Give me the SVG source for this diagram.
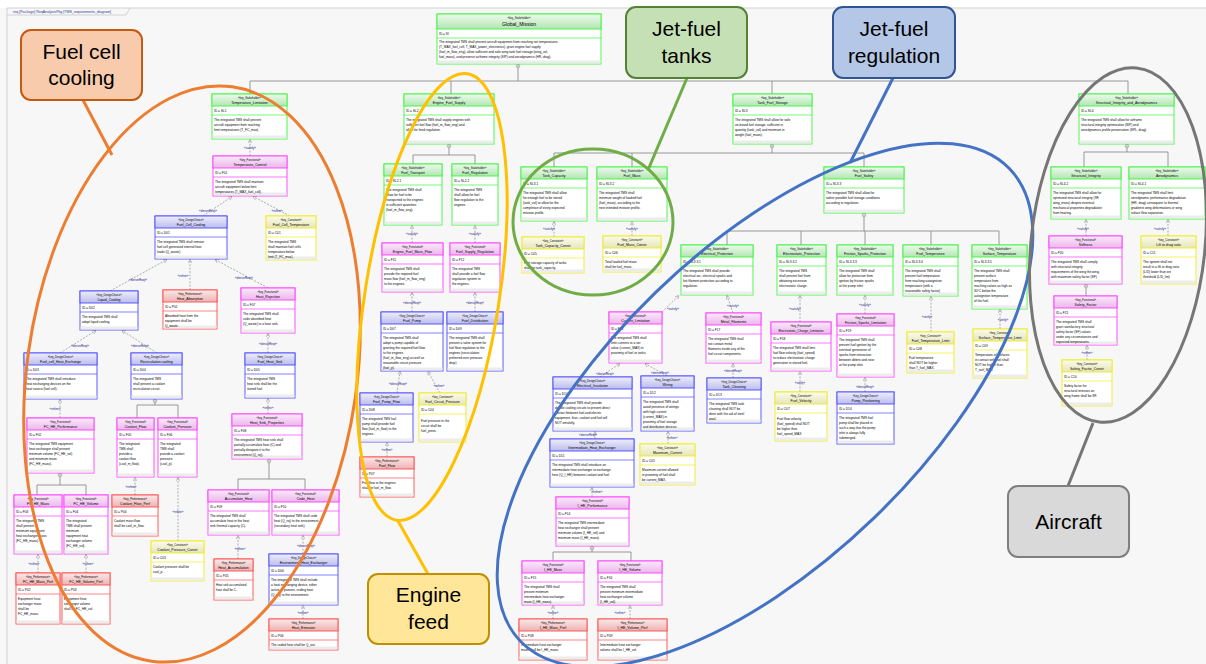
<svg xmlns="http://www.w3.org/2000/svg" width="1206" height="664" viewBox="0 0 1206 664">
<style>
text{font-family:"Liberation Sans",Arial,sans-serif;fill:#000}
.b{fill:#fff;stroke-width:0.9}
.h{stroke-width:0.9}
.n line{stroke-width:0.7}
.ft{fill:#ececec;stroke:none}
.G .b,.G .h,.G line{stroke:#3df53d}.G .h{fill:url(#gG)}
.P .b,.P .h,.P line{stroke:#ff3dff}.P .h{fill:url(#gP)}
.B .b,.B .h,.B line{stroke:#4d4dff}.B .h{fill:url(#gB)}
.R .b,.R .h,.R line{stroke:#ff4d4d}.R .h{fill:url(#gR)}
.Y .b,.Y .h,.Y line{stroke:#f0ec20}.Y .h{fill:url(#gY)}
.st{font-size:2.7px;text-anchor:middle}
.nm{font-size:3.5px;text-anchor:middle}
.t{font-size:3.2px}
.dep{fill:none;stroke:#8c8c8c;stroke-width:0.7;stroke-dasharray:2 1.4;marker-end:url(#oa)}
.lb{font-size:3px;fill:#1a1a8c;text-anchor:middle}
.cn{fill:none;stroke:#8c8c8c;stroke-width:0.9}
.cl{font-size:21px;text-anchor:middle}
.ell{fill:none;stroke-width:3}
</style>
<defs>
<linearGradient id="gG" x1="0" y1="0" x2="0" y2="1"><stop offset="0" stop-color="#eefaee"/><stop offset="1" stop-color="#b2e6b2"/></linearGradient>
<linearGradient id="gP" x1="0" y1="0" x2="0" y2="1"><stop offset="0" stop-color="#fbeafb"/><stop offset="1" stop-color="#ebb6eb"/></linearGradient>
<linearGradient id="gB" x1="0" y1="0" x2="0" y2="1"><stop offset="0" stop-color="#eeeefb"/><stop offset="1" stop-color="#bcbcee"/></linearGradient>
<linearGradient id="gR" x1="0" y1="0" x2="0" y2="1"><stop offset="0" stop-color="#fbe9e9"/><stop offset="1" stop-color="#eeb2b2"/></linearGradient>
<linearGradient id="gY" x1="0" y1="0" x2="0" y2="1"><stop offset="0" stop-color="#fbfbee"/><stop offset="1" stop-color="#e6e6b8"/></linearGradient>
<marker id="oa" viewBox="0 0 10 10" refX="9.5" refY="5" markerWidth="4" markerHeight="4" markerUnits="userSpaceOnUse" orient="auto"><path d="M0,0 L10,5 L0,10" fill="none" stroke="#8c8c8c" stroke-width="1.3"/></marker>
<g id="cp"><circle r="1.8" fill="#fff" stroke="#8c8c8c" stroke-width="0.6"/><path d="M-1.2,0H1.2M0,-1.2V1.2" stroke="#8c8c8c" stroke-width="0.5"/></g>
</defs>
<rect width="1206" height="664" fill="#f7f7f7"/>
<rect width="1206" height="8" fill="#ffffff"/>
<g id="frame">
<path d="M7,664 V8 H1206" fill="none" stroke="#c8c8c8" stroke-width="0.8"/>
<path d="M7,15 H126 L130,8" fill="none" stroke="#c8c8c8" stroke-width="0.8"/>
<text x="13" y="13" font-size="3.6" fill="#2b3a8f" style="fill:#2b3a8f">req [Package] ReqAnalysisPkg [TMS_requirements_diagram]</text>
</g>

<g id="connectors">
<path class="cn" d="M518,64V81M250,81H1128M250,81V94M451,81V94M772,81V94M1128,81V94"/>
<path class="cn" d="M449,144V155M413,155H475M413,155V164M475,155V164"/>
<path class="cn" d="M772,144V153M554,153H864M554,153V167M632,153V167M864,153V167"/>
<path class="cn" d="M1127,144V152M1084,152H1168M1084,152V167M1168,152V167"/>
<path class="cn" d="M864,213V231M727,231H999M727,231V245M801,231V245M865,231V245M931,231V245M999,231V245"/>
<path class="cn" d="M155,399V405M137,405H178M137,405V418M178,405V418"/>
<path class="cn" d="M60,473V485M37,485H86M37,485V495M86,485V495"/>
<path class="cn" d="M269,459V479M238,479H305M238,479V490M305,479V490"/>
<path class="cn" d="M592,546V552M553,552H631M553,552V561M631,552V561"/>
<path class="cn" d="M1086,284V296"/>
<use href="#cp" x="518" y="66"/><use href="#cp" x="449" y="146"/><use href="#cp" x="772" y="146"/><use href="#cp" x="1127" y="146"/><use href="#cp" x="864" y="215"/><use href="#cp" x="155" y="401"/><use href="#cp" x="60" y="475"/><use href="#cp" x="269" y="461"/><use href="#cp" x="592" y="548"/><use href="#cp" x="1086" y="286"/>

<path class="dep" d="M250,156L250,139.5"/><text class="lb" x="250" y="149">«satisfy»</text>
<path class="dep" d="M203,216L232,196.5"/><text class="lb" x="208" y="212">«deriveReqt»</text>
<path class="dep" d="M290,216L253,196.5"/><text class="lb" x="277" y="212">«refine»</text>
<path class="dep" d="M110,291L167,259.5"/><text class="lb" x="138" y="281">«deriveReqt»</text>
<path class="dep" d="M190,290L190,259.5"/><text class="lb" x="183" y="277">«refine»</text>
<path class="dep" d="M268,288L215,259.5"/><text class="lb" x="244" y="279">«deriveReqt»</text>
<path class="dep" d="M60,353L96,330.5"/><text class="lb" x="80" y="347">«deriveReqt»</text>
<path class="dep" d="M157,353L122,330.5"/><text class="lb" x="140" y="347">«deriveReqt»</text>
<path class="dep" d="M268,353L268,333.5"/><text class="lb" x="268" y="345">«deriveReqt»</text>
<path class="dep" d="M60,418L60,399.5"/><text class="lb" x="55" y="410">«refine»</text>
<path class="dep" d="M268,414L268,398.5"/><text class="lb" x="268" y="409">«refine»</text>
<path class="dep" d="M135,495L135,477.5"/><text class="lb" x="131" y="488">«refine»</text>
<path class="dep" d="M178,541L178,477.5"/><text class="lb" x="178" y="513">«refine»</text>
<path class="dep" d="M38,573L38,554.5"/><text class="lb" x="34" y="565">«refine»</text>
<path class="dep" d="M86,573L86,554.5"/><text class="lb" x="88" y="565">«refine»</text>
<path class="dep" d="M238,559L238,535.5"/><text class="lb" x="240" y="550">«refine»</text>
<path class="dep" d="M303,554L303,535.5"/><text class="lb" x="306" y="547">«deriveReqt»</text>
<path class="dep" d="M303,619L303,605.5"/><text class="lb" x="303" y="614">«refine»</text>
<path class="dep" d="M412,243L412,225.5"/><text class="lb" x="412" y="235">«satisfy»</text>
<path class="dep" d="M475,243L475,225.5"/><text class="lb" x="475" y="235">«satisfy»</text>
<path class="dep" d="M412,312L412,292.5"/><text class="lb" x="412" y="304">«deriveReqt»</text>
<path class="dep" d="M475,312L475,292.5"/><text class="lb" x="475" y="304">«deriveReqt»</text>
<path class="dep" d="M397,393L400,371.5"/><text class="lb" x="398" y="385">«deriveReqt»</text>
<path class="dep" d="M440,393L428,371.5"/><text class="lb" x="439" y="387">«refine»</text>
<path class="dep" d="M387,457L387,442.5"/><text class="lb" x="387" y="451">«refine»</text>
<path class="dep" d="M554,237L554,221.5"/><text class="lb" x="549" y="230">«satisfy»</text>
<path class="dep" d="M632,236L632,221.5"/><text class="lb" x="632" y="230">«satisfy»</text>
<path class="dep" d="M662,312L679,295.5"/><text class="lb" x="673" y="310">«satisfy»</text>
<path class="dep" d="M733,313L727,295.5"/><text class="lb" x="733" y="307">«satisfy»</text>
<path class="dep" d="M800,322L800,295.5"/><text class="lb" x="795" y="310">«satisfy»</text>
<path class="dep" d="M865,314L865,295.5"/><text class="lb" x="865" y="306">«satisfy»</text>
<path class="dep" d="M600,377L620,363.5"/><text class="lb" x="605" y="375">«deriveReqt»</text>
<path class="dep" d="M667,376L645,363.5"/><text class="lb" x="660" y="374">«deriveReqt»</text>
<path class="dep" d="M733,378L733,363.5"/><text class="lb" x="733" y="372">«deriveReqt»</text>
<path class="dep" d="M800,392L800,371.5"/><text class="lb" x="800" y="384">«verify»</text>
<path class="dep" d="M865,392L865,377.5"/><text class="lb" x="865" y="388">«deriveReqt»</text>
<path class="dep" d="M668,444L668,431.5"/><text class="lb" x="672" y="439">«refine»</text>
<path class="dep" d="M595,439L595,431.5"/><text class="lb" x="588" y="436">«deriveReqt»</text>
<path class="dep" d="M592,497L592,487.5"/><text class="lb" x="597" y="493">«refine»</text>
<path class="dep" d="M553,619L553,605.5"/><text class="lb" x="553" y="614">«refine»</text>
<path class="dep" d="M630,619L630,605.5"/><text class="lb" x="620" y="614">«refine»</text>
<path class="dep" d="M931,332L931,296.5"/><text class="lb" x="927" y="318">«verify»</text>
<path class="dep" d="M1000,329L1000,309.5"/><text class="lb" x="1003" y="321">«verify»</text>
<path class="dep" d="M1086,236L1086,219.5"/><text class="lb" x="1083" y="230">«satisfy»</text>
<path class="dep" d="M1168,236L1168,219.5"/><text class="lb" x="1160" y="230">«satisfy»</text>
<path class="dep" d="M1087,360L1087,345.5"/><text class="lb" x="1087" y="354">«refine»</text>
</g>

<g id="Global_Mission" class="n G"><rect class="b" x="437" y="14" width="164" height="50"/><rect class="ft" x="437.5" y="60.5" width="163" height="3"/><rect class="h" x="437" y="14" width="164" height="15"/><line x1="437" y1="38" x2="601" y2="38"/><text class="st" x="519" y="19">«key_Stakeholder»</text><text class="nm" x="519" y="26" style="font-size:5px">Global_Mission</text><text class="t" x="439" y="35">ID = SI</text><text class="t" x="439" y="43">The integrated TMS shall prevent aircraft equipment from reaching set temperatures<tspan x="439" dy="5">(T_MAX_fuel_cell, T_MAX_power_electronics), grant engine fuel supply</tspan><tspan x="439" dy="5">(fuel_m_flow_eng), allow sufficient and safe wing tank fuel storage (wing_vol,</tspan><tspan x="439" dy="5">fuel_mass), and preserve airframe integrity (SIP) and aerodynamics (HR, drag).</tspan></text></g>

<g id="Temperature_Limitation" class="n G"><rect class="b" x="212" y="94" width="75" height="45"/><rect class="ft" x="212.5" y="135.5" width="74" height="3"/><rect class="h" x="212" y="94" width="75" height="12"/><line x1="212" y1="115" x2="287" y2="115"/><text class="st" x="249.5" y="98.5">«key_Stakeholder»</text><text class="nm" x="249.5" y="104">Temperature_Limitation</text><text class="t" x="214" y="112">ID = SL1</text><text class="t" x="214" y="120.5">The integrated TMS shall prevent<tspan x="214" dy="5">aircraft equipment from reaching</tspan><tspan x="214" dy="5">limit temperatures (T_FC_max).</tspan></text></g>

<g id="Engine_Fuel_Supply" class="n G"><rect class="b" x="404" y="94" width="90" height="50"/><rect class="ft" x="404.5" y="140.5" width="89" height="3"/><rect class="h" x="404" y="94" width="90" height="12"/><line x1="404" y1="115" x2="494" y2="115"/><text class="st" x="449" y="98.5">«key_Stakeholder»</text><text class="nm" x="449" y="104">Engine_Fuel_Supply</text><text class="t" x="406" y="112">ID = SL2</text><text class="t" x="406" y="120.5">The integrated TMS shall supply engines with<tspan x="406" dy="5">sufficient fuel flow (fuel_m_flow_eng) and</tspan><tspan x="406" dy="5">allow for feed regulation.</tspan></text></g>

<g id="Tank_Fuel_Storage" class="n G"><rect class="b" x="733" y="94" width="79" height="50"/><rect class="ft" x="733.5" y="140.5" width="78" height="3"/><rect class="h" x="733" y="94" width="79" height="12"/><line x1="733" y1="115" x2="812" y2="115"/><text class="st" x="772.5" y="98.5">«key_Stakeholder»</text><text class="nm" x="772.5" y="104">Tank_Fuel_Storage</text><text class="t" x="735" y="112">ID = SL3</text><text class="t" x="735" y="120.5">The integrated TMS shall allow for safe<tspan x="735" dy="5">on-board fuel storage, sufficient in</tspan><tspan x="735" dy="5">quantity (tank_vol) and minimum in</tspan><tspan x="735" dy="5">weight (fuel_mass).</tspan></text></g>

<g id="Structural_Integrity_and_Aerodynamics" class="n G"><rect class="b" x="1079" y="94" width="95" height="50"/><rect class="ft" x="1079.5" y="140.5" width="94" height="3"/><rect class="h" x="1079" y="94" width="95" height="12"/><line x1="1079" y1="115" x2="1174" y2="115"/><text class="st" x="1126.5" y="98.5">«key_Stakeholder»</text><text class="nm" x="1126.5" y="104">Structural_Integrity_and_Aerodynamics</text><text class="t" x="1081" y="112">ID = SL4</text><text class="t" x="1081" y="120.5">The integrated TMS shall allow for airframe<tspan x="1081" dy="5">structural integrity optimization (SIP) and</tspan><tspan x="1081" dy="5">aerodynamics profile preservation (SPL, drag).</tspan></text></g>

<g id="Fuel_Transport" class="n G"><rect class="b" x="384" y="164" width="58" height="61"/><rect class="ft" x="384.5" y="221.5" width="57" height="3"/><rect class="h" x="384" y="164" width="58" height="12"/><line x1="384" y1="185" x2="442" y2="185"/><text class="st" x="413" y="168.5">«key_Stakeholder»</text><text class="nm" x="413" y="174">Fuel_Transport</text><text class="t" x="386" y="182">ID = SL2.1</text><text class="t" x="386" y="190.5">The integrated TMS shall<tspan x="386" dy="5">allow for fuel to be</tspan><tspan x="386" dy="5">transported to the engines</tspan><tspan x="386" dy="5">in sufficient quantities</tspan><tspan x="386" dy="5">(fuel_m_flow_eng).</tspan></text></g>

<g id="Fuel_Regulation" class="n G"><rect class="b" x="452" y="164" width="46" height="61"/><rect class="ft" x="452.5" y="221.5" width="45" height="3"/><rect class="h" x="452" y="164" width="46" height="12"/><line x1="452" y1="185" x2="498" y2="185"/><text class="st" x="475" y="168.5">«key_Stakeholder»</text><text class="nm" x="475" y="174">Fuel_Regulation</text><text class="t" x="454" y="182">ID = SL2.2</text><text class="t" x="454" y="190.5">The integrated TMS<tspan x="454" dy="5">shall allow for fuel</tspan><tspan x="454" dy="5">flow regulation to the</tspan><tspan x="454" dy="5">engines.</tspan></text></g>

<g id="Tank_Capacity" class="n G"><rect class="b" x="521" y="167" width="66" height="54"/><rect class="ft" x="521.5" y="217.5" width="65" height="3"/><rect class="h" x="521" y="167" width="66" height="12"/><line x1="521" y1="188" x2="587" y2="188"/><text class="st" x="554" y="171.5">«key_Stakeholder»</text><text class="nm" x="554" y="177">Tank_Capacity</text><text class="t" x="523" y="185">ID = SL3.1</text><text class="t" x="523" y="193.5">The integrated TMS shall allow<tspan x="523" dy="5">for enough fuel to be stored</tspan><tspan x="523" dy="5">(tank_vol) to allow for the</tspan><tspan x="523" dy="5">completion of every expected</tspan><tspan x="523" dy="5">mission profile.</tspan></text></g>

<g id="Fuel_Mass" class="n G"><rect class="b" x="597" y="167" width="70" height="54"/><rect class="ft" x="597.5" y="217.5" width="69" height="3"/><rect class="h" x="597" y="167" width="70" height="12"/><line x1="597" y1="188" x2="667" y2="188"/><text class="st" x="632" y="171.5">«key_Stakeholder»</text><text class="nm" x="632" y="177">Fuel_Mass</text><text class="t" x="599" y="185">ID = SL3.2</text><text class="t" x="599" y="193.5">The integrated TMS shall<tspan x="599" dy="5">minimize weight of loaded fuel</tspan><tspan x="599" dy="5">(fuel_mass), according to the</tspan><tspan x="599" dy="5">next intended mission profile.</tspan></text></g>

<g id="Fuel_Safety" class="n G"><rect class="b" x="824" y="167" width="80" height="46"/><rect class="ft" x="824.5" y="209.5" width="79" height="3"/><rect class="h" x="824" y="167" width="80" height="12"/><line x1="824" y1="188" x2="904" y2="188"/><text class="st" x="864" y="171.5">«key_Stakeholder»</text><text class="nm" x="864" y="177">Fuel_Safety</text><text class="t" x="826" y="185">ID = SL3.3</text><text class="t" x="826" y="193.5">The integrated TMS shall allow for<tspan x="826" dy="5">safest possible fuel storage conditions</tspan><tspan x="826" dy="5">according to regulation.</tspan></text></g>

<g id="Structural_Integrity" class="n G"><rect class="b" x="1051" y="167" width="70" height="52"/><rect class="ft" x="1051.5" y="215.5" width="69" height="3"/><rect class="h" x="1051" y="167" width="70" height="12"/><line x1="1051" y1="188" x2="1121" y2="188"/><text class="st" x="1086" y="171.5">«key_Stakeholder»</text><text class="nm" x="1086" y="177">Structural_Integrity</text><text class="t" x="1053" y="185">ID = SL4.2</text><text class="t" x="1053" y="193.5">The integrated TMS shall allow for<tspan x="1053" dy="5">optimized structural integrity (SF,</tspan><tspan x="1053" dy="5">wing_mass) despite eventual</tspan><tspan x="1053" dy="5">mechanical properties degradation</tspan><tspan x="1053" dy="5">from heating.</tspan></text></g>

<g id="Aerodynamics" class="n G"><rect class="b" x="1129" y="167" width="76" height="52"/><rect class="ft" x="1129.5" y="215.5" width="75" height="3"/><rect class="h" x="1129" y="167" width="76" height="12"/><line x1="1129" y1="188" x2="1205" y2="188"/><text class="st" x="1167" y="171.5">«key_Stakeholder»</text><text class="nm" x="1167" y="177">Aerodynamics</text><text class="t" x="1131" y="185">ID = SL4.1</text><text class="t" x="1131" y="193.5">The integrated TMS shall limit<tspan x="1131" dy="5">aerodynamic performance degradation</tspan><tspan x="1131" dy="5">(HR, drag) consequent to thermal</tspan><tspan x="1131" dy="5">gradients wing deformations or wing</tspan><tspan x="1131" dy="5">suface flow separation.</tspan></text></g>

<g id="Electrical_Protection" class="n G"><rect class="b" x="681" y="245" width="72" height="50"/><rect class="ft" x="681.5" y="291.5" width="71" height="3"/><rect class="h" x="681" y="245" width="72" height="12"/><line x1="681" y1="266" x2="753" y2="266"/><text class="st" x="717" y="249.5">«key_Stakeholder»</text><text class="nm" x="717" y="255">Electrical_Protection</text><text class="t" x="683" y="263">ID = SL3.3.1</text><text class="t" x="683" y="271.5">The integrated TMS shall provide<tspan x="683" dy="5">electrical arc, electrical sparks and</tspan><tspan x="683" dy="5">hot filament protection according to</tspan><tspan x="683" dy="5">regulation.</tspan></text></g>

<g id="Electrostatic_Protection" class="n G"><rect class="b" x="777" y="245" width="49" height="50"/><rect class="ft" x="777.5" y="291.5" width="48" height="3"/><rect class="h" x="777" y="245" width="49" height="12"/><line x1="777" y1="266" x2="826" y2="266"/><text class="st" x="801.5" y="249.5">«key_Stakeholder»</text><text class="nm" x="801.5" y="255">Electrostatic_Protection</text><text class="t" x="779" y="263">ID = SL3.3.2</text><text class="t" x="779" y="271.5">The integrated TMS<tspan x="779" dy="5">shall prevent fuel from</tspan><tspan x="779" dy="5">obtaining excessive</tspan><tspan x="779" dy="5">electrostatic charge.</tspan></text></g>

<g id="Friction_Sparks_Protection" class="n G"><rect class="b" x="837" y="245" width="56" height="50"/><rect class="ft" x="837.5" y="291.5" width="55" height="3"/><rect class="h" x="837" y="245" width="56" height="12"/><line x1="837" y1="266" x2="893" y2="266"/><text class="st" x="865" y="249.5">«key_Stakeholder»</text><text class="nm" x="865" y="255">Friction_Sparks_Protection</text><text class="t" x="839" y="263">ID = SL3.3.3</text><text class="t" x="839" y="271.5">The integrated TMS shall<tspan x="839" dy="5">allow for protection from</tspan><tspan x="839" dy="5">ignition by friction sparks</tspan><tspan x="839" dy="5">at the pump inlet.</tspan></text></g>

<g id="Fuel_Temperature" class="n G"><rect class="b" x="903" y="245" width="55" height="51"/><rect class="ft" x="903.5" y="292.5" width="54" height="3"/><rect class="h" x="903" y="245" width="55" height="12"/><line x1="903" y1="266" x2="958" y2="266"/><text class="st" x="930.5" y="249.5">«key_Stakeholder»</text><text class="nm" x="930.5" y="255">Fuel_Temperature</text><text class="t" x="905" y="263">ID = SL3.3.4</text><text class="t" x="905" y="271.5">The integrated TMS shall<tspan x="905" dy="5">prevent fuel temperature</tspan><tspan x="905" dy="5">from reaching autoignition</tspan><tspan x="905" dy="5">temperature (with a</tspan><tspan x="905" dy="5">reasonable safety factor)</tspan></text></g>

<g id="Surface_Temperature" class="n G"><rect class="b" x="972" y="245" width="55" height="64"/><rect class="ft" x="972.5" y="305.5" width="54" height="3"/><rect class="h" x="972" y="245" width="55" height="12"/><line x1="972" y1="266" x2="1027" y2="266"/><text class="st" x="999.5" y="249.5">«key_Stakeholder»</text><text class="nm" x="999.5" y="255">Surface_Temperature</text><text class="t" x="974" y="263">ID = SL3.3.5</text><text class="t" x="974" y="271.5">The integrated TMS shall<tspan x="974" dy="5">present surface</tspan><tspan x="974" dy="5">temperature from</tspan><tspan x="974" dy="5">reaching values as high as</tspan><tspan x="974" dy="5">30°C below the</tspan><tspan x="974" dy="5">autoignition temperature</tspan><tspan x="974" dy="5">of the fuel.</tspan></text></g>

<g id="Temperature_Control" class="n P"><rect class="b" x="213" y="156" width="74" height="40"/><rect class="ft" x="213.5" y="192.5" width="73" height="3"/><rect class="h" x="213" y="156" width="74" height="12"/><line x1="213" y1="177" x2="287" y2="177"/><text class="st" x="250" y="160.5">«key_Functional»</text><text class="nm" x="250" y="166">Temperature_Control</text><text class="t" x="215" y="174">ID = F01</text><text class="t" x="215" y="182.5">The integrated TMS shall maintain<tspan x="215" dy="5">aircraft equipment below limit</tspan><tspan x="215" dy="5">temperatures (T_MAX_fuel_cell).</tspan></text></g>

<g id="Heat_Rejection" class="n P"><rect class="b" x="241" y="288" width="54" height="45"/><rect class="ft" x="241.5" y="329.5" width="53" height="3"/><rect class="h" x="241" y="288" width="54" height="12"/><line x1="241" y1="309" x2="295" y2="309"/><text class="st" x="268" y="292.5">«key_Functional»</text><text class="nm" x="268" y="298">Heat_Rejection</text><text class="t" x="243" y="306">ID = F07</text><text class="t" x="243" y="314.5">The integrated TMS shall<tspan x="243" dy="5">cede absorbed heat</tspan><tspan x="243" dy="5">(Q_waste) to a heat sink.</tspan></text></g>

<g id="FC_HE_Performance" class="n P"><rect class="b" x="27" y="418" width="67" height="55"/><rect class="ft" x="27.5" y="469.5" width="66" height="3"/><rect class="h" x="27" y="418" width="67" height="12"/><line x1="27" y1="439" x2="94" y2="439"/><text class="st" x="60.5" y="422.5">«key_Functional»</text><text class="nm" x="60.5" y="428">FC_HE_Performance</text><text class="t" x="29" y="436">ID = F02</text><text class="t" x="29" y="444.5">The integrated TMS equipment<tspan x="29" dy="5">heat exchanger shall present</tspan><tspan x="29" dy="5">minimum volume (FC_HE_vol)</tspan><tspan x="29" dy="5">and minimum mass</tspan><tspan x="29" dy="5">(FC_HE_mass).</tspan></text></g>

<g id="Coolant_Flow" class="n P"><rect class="b" x="117" y="418" width="37" height="59"/><rect class="ft" x="117.5" y="473.5" width="36" height="3"/><rect class="h" x="117" y="418" width="37" height="12"/><line x1="117" y1="439" x2="154" y2="439"/><text class="st" x="135.5" y="422.5">«key_Functional»</text><text class="nm" x="135.5" y="428">Coolant_Flow</text><text class="t" x="119" y="436">ID = F05</text><text class="t" x="119" y="444.5">The integrated<tspan x="119" dy="5">TMS shall</tspan><tspan x="119" dy="5">provide a</tspan><tspan x="119" dy="5">coolant flow</tspan><tspan x="119" dy="5">(cool_m_flow).</tspan></text></g>

<g id="Coolant_Pressure" class="n P"><rect class="b" x="158" y="418" width="39" height="59"/><rect class="ft" x="158.5" y="473.5" width="38" height="3"/><rect class="h" x="158" y="418" width="39" height="12"/><line x1="158" y1="439" x2="197" y2="439"/><text class="st" x="177.5" y="422.5">«key_Functional»</text><text class="nm" x="177.5" y="428">Coolant_Pressure</text><text class="t" x="160" y="436">ID = F06</text><text class="t" x="160" y="444.5">The integrated<tspan x="160" dy="5">TMS shall</tspan><tspan x="160" dy="5">provide a coolant</tspan><tspan x="160" dy="5">pressure</tspan><tspan x="160" dy="5">(cool_p).</tspan></text></g>

<g id="Heat_Sink_Properties" class="n P"><rect class="b" x="232" y="414" width="70" height="45"/><rect class="ft" x="232.5" y="455.5" width="69" height="3"/><rect class="h" x="232" y="414" width="70" height="12"/><line x1="232" y1="435" x2="302" y2="435"/><text class="st" x="267" y="418.5">«key_Functional»</text><text class="nm" x="267" y="424">Heat_Sink_Properties</text><text class="t" x="234" y="432">ID = F08</text><text class="t" x="234" y="440.5">The integrated TMS heat sink shall<tspan x="234" dy="5">partially accumulate heat (C) and</tspan><tspan x="234" dy="5">partially dissipate it to the</tspan><tspan x="234" dy="5">environment (Q_rej).</tspan></text></g>

<g id="FC_HE_Mass" class="n P"><rect class="b" x="14" y="495" width="48" height="59"/><rect class="ft" x="14.5" y="550.5" width="47" height="3"/><rect class="h" x="14" y="495" width="48" height="12"/><line x1="14" y1="516" x2="62" y2="516"/><text class="st" x="38" y="499.5">«key_Functional»</text><text class="nm" x="38" y="505">FC_HE_Mass</text><text class="t" x="16" y="513">ID = F03</text><text class="t" x="16" y="521.5">The integrated TMS<tspan x="16" dy="5">shall present</tspan><tspan x="16" dy="5">minimum equipment</tspan><tspan x="16" dy="5">heat exchanger mass</tspan><tspan x="16" dy="5">(FC_HE_mass).</tspan></text></g>

<g id="FC_HE_Volume" class="n P"><rect class="b" x="64" y="495" width="44" height="59"/><rect class="ft" x="64.5" y="550.5" width="43" height="3"/><rect class="h" x="64" y="495" width="44" height="12"/><line x1="64" y1="516" x2="108" y2="516"/><text class="st" x="86" y="499.5">«key_Functional»</text><text class="nm" x="86" y="505">FC_HE_Volume</text><text class="t" x="66" y="513">ID = F04</text><text class="t" x="66" y="521.5">The integrated<tspan x="66" dy="5">TMS shall present</tspan><tspan x="66" dy="5">minimum</tspan><tspan x="66" dy="5">equipment heat</tspan><tspan x="66" dy="5">exchanger volume</tspan><tspan x="66" dy="5">(FC_HE_vol).</tspan></text></g>

<g id="Accumulate_Heat" class="n P"><rect class="b" x="208" y="490" width="61" height="45"/><rect class="ft" x="208.5" y="531.5" width="60" height="3"/><rect class="h" x="208" y="490" width="61" height="12"/><line x1="208" y1="511" x2="269" y2="511"/><text class="st" x="238.5" y="494.5">«key_Functional»</text><text class="nm" x="238.5" y="500">Accumulate_Heat</text><text class="t" x="210" y="508">ID = F09</text><text class="t" x="210" y="516.5">The integrated TMS shall<tspan x="210" dy="5">accumulate heat in the heat</tspan><tspan x="210" dy="5">sink thermal capacity (C).</tspan></text></g>

<g id="Cede_Heat" class="n P"><rect class="b" x="272" y="490" width="67" height="45"/><rect class="ft" x="272.5" y="531.5" width="66" height="3"/><rect class="h" x="272" y="490" width="67" height="12"/><line x1="272" y1="511" x2="339" y2="511"/><text class="st" x="305.5" y="494.5">«key_Functional»</text><text class="nm" x="305.5" y="500">Cede_Heat</text><text class="t" x="274" y="508">ID = F10</text><text class="t" x="274" y="516.5">The integrated TMS shall cede<tspan x="274" dy="5">heat (Q_rej) to the environment</tspan><tspan x="274" dy="5">(secondary heat sink).</tspan></text></g>

<g id="Engine_Fuel_Mass_Flow" class="n P"><rect class="b" x="382" y="243" width="61" height="49"/><rect class="ft" x="382.5" y="288.5" width="60" height="3"/><rect class="h" x="382" y="243" width="61" height="12"/><line x1="382" y1="264" x2="443" y2="264"/><text class="st" x="412.5" y="247.5">«key_Functional»</text><text class="nm" x="412.5" y="253">Engine_Fuel_Mass_Flow</text><text class="t" x="384" y="261">ID = F11</text><text class="t" x="384" y="269.5">The integrated TMS shall<tspan x="384" dy="5">provide the required fuel</tspan><tspan x="384" dy="5">mass flow (fuel_m_flow_eng)</tspan><tspan x="384" dy="5">to the engines.</tspan></text></g>

<g id="Fuel_Supply_Regulation" class="n P"><rect class="b" x="450" y="243" width="50" height="49"/><rect class="ft" x="450.5" y="288.5" width="49" height="3"/><rect class="h" x="450" y="243" width="50" height="12"/><line x1="450" y1="264" x2="500" y2="264"/><text class="st" x="475" y="247.5">«key_Functional»</text><text class="nm" x="475" y="253">Fuel_Supply_Regulation</text><text class="t" x="452" y="261">ID = F12</text><text class="t" x="452" y="269.5">The integrated TMS<tspan x="452" dy="5">shall provide a fuel flow</tspan><tspan x="452" dy="5">regulation system to</tspan><tspan x="452" dy="5">the engines.</tspan></text></g>

<g id="Current_Limitation" class="n P"><rect class="b" x="609" y="312" width="53" height="51"/><rect class="ft" x="609.5" y="359.5" width="52" height="3"/><rect class="h" x="609" y="312" width="53" height="12"/><line x1="609" y1="333" x2="662" y2="333"/><text class="st" x="635.5" y="316.5">«key_Functional»</text><text class="nm" x="635.5" y="322">Current_Limitation</text><text class="t" x="611" y="330">ID = F13</text><text class="t" x="611" y="338.5">The integrated TMS shall<tspan x="611" dy="5">limit currents to a set</tspan><tspan x="611" dy="5">value (current_MAX) in</tspan><tspan x="611" dy="5">proximity of fuel or tanks.</tspan></text></g>

<g id="Metal_Filaments" class="n P"><rect class="b" x="706" y="313" width="55" height="50"/><rect class="ft" x="706.5" y="359.5" width="54" height="3"/><rect class="h" x="706" y="313" width="55" height="12"/><line x1="706" y1="334" x2="761" y2="334"/><text class="st" x="733.5" y="317.5">«key_Functional»</text><text class="nm" x="733.5" y="323">Metal_Filaments</text><text class="t" x="708" y="331">ID = F17</text><text class="t" x="708" y="339.5">The integrated TMS shall<tspan x="708" dy="5">not contain metal</tspan><tspan x="708" dy="5">filaments inside any of the</tspan><tspan x="708" dy="5">fuel circuit components.</tspan></text></g>

<g id="Electrostatic_Charge_Limitation" class="n P"><rect class="b" x="771" y="322" width="60" height="49"/><rect class="ft" x="771.5" y="367.5" width="59" height="3"/><rect class="h" x="771" y="322" width="60" height="12"/><line x1="771" y1="343" x2="831" y2="343"/><text class="st" x="801" y="326.5">«key_Functional»</text><text class="nm" x="801" y="332" style="font-size:3.2px">Electrostatic_Charge_Limitation</text><text class="t" x="773" y="340">ID = F18</text><text class="t" x="773" y="348.5">The integrated TMS shall limit<tspan x="773" dy="5">fuel flow velocity (fuel_speed)</tspan><tspan x="773" dy="5">to reduce electrostatic charge</tspan><tspan x="773" dy="5">generation in stored fuel.</tspan></text></g>

<g id="Friction_Sparks_Limitation" class="n P"><rect class="b" x="837" y="314" width="57" height="63"/><rect class="ft" x="837.5" y="373.5" width="56" height="3"/><rect class="h" x="837" y="314" width="57" height="12"/><line x1="837" y1="335" x2="894" y2="335"/><text class="st" x="865.5" y="318.5">«key_Functional»</text><text class="nm" x="865.5" y="324">Friction_Sparks_Limitation</text><text class="t" x="839" y="332">ID = F19</text><text class="t" x="839" y="340.5">The integrated TMS shall<tspan x="839" dy="5">prevent fuel ignition by the</tspan><tspan x="839" dy="5">eventual generation of</tspan><tspan x="839" dy="5">sparks from interaction</tspan><tspan x="839" dy="5">between debris and rotor</tspan><tspan x="839" dy="5">at the pump inlet.</tspan></text></g>

<g id="Stiffness" class="n P"><rect class="b" x="1049" y="236" width="73" height="48"/><rect class="ft" x="1049.5" y="280.5" width="72" height="3"/><rect class="h" x="1049" y="236" width="73" height="12"/><line x1="1049" y1="257" x2="1122" y2="257"/><text class="st" x="1085.5" y="240.5">«key_Functional»</text><text class="nm" x="1085.5" y="246">Stiffness</text><text class="t" x="1051" y="254">ID = F20</text><text class="t" x="1051" y="262.5">The integrated TMS shall comply<tspan x="1051" dy="5">with structural integrity</tspan><tspan x="1051" dy="5">requirements of the wing the wing,</tspan><tspan x="1051" dy="5">with maximum safety factor (SF).</tspan></text></g>

<g id="Safety_Factor" class="n P"><rect class="b" x="1054" y="296" width="63" height="49"/><rect class="ft" x="1054.5" y="341.5" width="62" height="3"/><rect class="h" x="1054" y="296" width="63" height="12"/><line x1="1054" y1="317" x2="1117" y2="317"/><text class="st" x="1085.5" y="300.5">«key_Functional»</text><text class="nm" x="1085.5" y="306">Safety_Factor</text><text class="t" x="1056" y="314">ID = F21</text><text class="t" x="1056" y="322.5">The integrated TMS shall<tspan x="1056" dy="5">grant satisfactory structural</tspan><tspan x="1056" dy="5">safety factor (SF) values</tspan><tspan x="1056" dy="5">under any circumstances and</tspan><tspan x="1056" dy="5">expected temperatures.</tspan></text></g>

<g id="I_HE_Performance" class="n P"><rect class="b" x="556" y="497" width="73" height="49"/><rect class="ft" x="556.5" y="542.5" width="72" height="3"/><rect class="h" x="556" y="497" width="73" height="12"/><line x1="556" y1="518" x2="629" y2="518"/><text class="st" x="592.5" y="501.5">«key_Functional»</text><text class="nm" x="592.5" y="507">I_HE_Performance</text><text class="t" x="558" y="515">ID = F14</text><text class="t" x="558" y="523.5">The integrated TMS intermediate<tspan x="558" dy="5">heat exchanger shall present</tspan><tspan x="558" dy="5">minimum volume (I_HE_vol) and</tspan><tspan x="558" dy="5">minimum mass (I_HE_mass).</tspan></text></g>

<g id="I_HE_Mass" class="n P"><rect class="b" x="522" y="561" width="62" height="44"/><rect class="ft" x="522.5" y="601.5" width="61" height="3"/><rect class="h" x="522" y="561" width="62" height="12"/><line x1="522" y1="582" x2="584" y2="582"/><text class="st" x="553" y="565.5">«key_Functional»</text><text class="nm" x="553" y="571">I_HE_Mass</text><text class="t" x="524" y="579">ID = F15</text><text class="t" x="524" y="587.5">The integrated TMS shall<tspan x="524" dy="5">present minimum</tspan><tspan x="524" dy="5">intermediate heat exchanger</tspan><tspan x="524" dy="5">mass (I_HE_mass).</tspan></text></g>

<g id="I_HE_Volume" class="n P"><rect class="b" x="598" y="561" width="64" height="44"/><rect class="ft" x="598.5" y="601.5" width="63" height="3"/><rect class="h" x="598" y="561" width="64" height="12"/><line x1="598" y1="582" x2="662" y2="582"/><text class="st" x="630" y="565.5">«key_Functional»</text><text class="nm" x="630" y="571">I_HE_Volume</text><text class="t" x="600" y="579">ID = F16</text><text class="t" x="600" y="587.5">The integrated TMS shall<tspan x="600" dy="5">present minimum intermediate</tspan><tspan x="600" dy="5">heat exchanger volume</tspan><tspan x="600" dy="5">(I_HE_vol).</tspan></text></g>

<g id="Fuel_Cell_Cooling" class="n B"><rect class="b" x="155" y="216" width="72" height="43"/><rect class="ft" x="155.5" y="255.5" width="71" height="3"/><rect class="h" x="155" y="216" width="72" height="12"/><line x1="155" y1="237" x2="227" y2="237"/><text class="st" x="191" y="220.5">«key_DesignChoice»</text><text class="nm" x="191" y="226">Fuel_Cell_Cooling</text><text class="t" x="157" y="234">ID = D01</text><text class="t" x="157" y="242.5">The integrated TMS shall remove<tspan x="157" dy="5">fuel cell generated internal heat</tspan><tspan x="157" dy="5">loads (Q_waste).</tspan></text></g>

<g id="Liquid_Cooling" class="n B"><rect class="b" x="80" y="291" width="58" height="39"/><rect class="ft" x="80.5" y="326.5" width="57" height="3"/><rect class="h" x="80" y="291" width="58" height="12"/><line x1="80" y1="312" x2="138" y2="312"/><text class="st" x="109" y="295.5">«key_DesignChoice»</text><text class="nm" x="109" y="301">Liquid_Cooling</text><text class="t" x="82" y="309">ID = D02</text><text class="t" x="82" y="317.5">The integrated TMS shall<tspan x="82" dy="5">adopt liquid cooling.</tspan></text></g>

<g id="Fuel_cell_Heat_Exchange" class="n B"><rect class="b" x="24" y="353" width="73" height="46"/><rect class="ft" x="24.5" y="395.5" width="72" height="3"/><rect class="h" x="24" y="353" width="73" height="12"/><line x1="24" y1="374" x2="97" y2="374"/><text class="st" x="60.5" y="357.5">«key_DesignChoice»</text><text class="nm" x="60.5" y="363">Fuel_cell_Heat_Exchange</text><text class="t" x="26" y="371">ID = D03</text><text class="t" x="26" y="379.5">The integrated TMS shall introduce<tspan x="26" dy="5">heat exchanging devices on the</tspan><tspan x="26" dy="5">heat source (fuel cell).</tspan></text></g>

<g id="Recirculation_cooling" class="n B"><rect class="b" x="131" y="353" width="51" height="46"/><rect class="ft" x="131.5" y="395.5" width="50" height="3"/><rect class="h" x="131" y="353" width="51" height="12"/><line x1="131" y1="374" x2="182" y2="374"/><text class="st" x="156.5" y="357.5">«key_DesignChoice»</text><text class="nm" x="156.5" y="363">Recirculation cooling</text><text class="t" x="133" y="371">ID = D04</text><text class="t" x="133" y="379.5">The integrated TMS<tspan x="133" dy="5">shall present a coolant</tspan><tspan x="133" dy="5">recirculation circuit.</tspan></text></g>

<g id="Fuel_Heat_Sink" class="n B"><rect class="b" x="245" y="353" width="50" height="45"/><rect class="ft" x="245.5" y="394.5" width="49" height="3"/><rect class="h" x="245" y="353" width="50" height="12"/><line x1="245" y1="374" x2="295" y2="374"/><text class="st" x="270" y="357.5">«key_DesignChoice»</text><text class="nm" x="270" y="363">Fuel_Heat_Sink</text><text class="t" x="247" y="371">ID = D05</text><text class="t" x="247" y="379.5">The integrated TMS<tspan x="247" dy="5">heat sink shall be the</tspan><tspan x="247" dy="5">stored fuel.</tspan></text></g>

<g id="Environment_Heat_Exchanger" class="n B"><rect class="b" x="269" y="554" width="69" height="51"/><rect class="ft" x="269.5" y="601.5" width="68" height="3"/><rect class="h" x="269" y="554" width="69" height="12"/><line x1="269" y1="575" x2="338" y2="575"/><text class="st" x="303.5" y="558.5">«key_DesignChoice»</text><text class="nm" x="303.5" y="564">Environment_Heat_Exchanger</text><text class="t" x="271" y="572">ID = D06</text><text class="t" x="271" y="580.5">The integrated TMS shall include<tspan x="271" dy="5">a heat exchanging device, either</tspan><tspan x="271" dy="5">active or passive, ceding heat</tspan><tspan x="271" dy="5">(Q_rej) to the environment.</tspan></text></g>

<g id="Fuel_Pump" class="n B"><rect class="b" x="381" y="312" width="62" height="59"/><rect class="ft" x="381.5" y="367.5" width="61" height="3"/><rect class="h" x="381" y="312" width="62" height="12"/><line x1="381" y1="333" x2="443" y2="333"/><text class="st" x="412" y="316.5">«key_DesignChoice»</text><text class="nm" x="412" y="322">Fuel_Pump</text><text class="t" x="383" y="330">ID = D07</text><text class="t" x="383" y="338.5">The integrated TMS shall<tspan x="383" dy="5">adopt a pump capable of</tspan><tspan x="383" dy="5">granting the required fuel flow</tspan><tspan x="383" dy="5">to the engines</tspan><tspan x="383" dy="5">(fuel_m_flow_eng) as well as</tspan><tspan x="383" dy="5">reasonable circuit pressure</tspan><tspan x="383" dy="5">(fuel_p).</tspan></text></g>

<g id="Fuel_Distribution" class="n B"><rect class="b" x="447" y="312" width="56" height="59"/><rect class="ft" x="447.5" y="367.5" width="55" height="3"/><rect class="h" x="447" y="312" width="56" height="12"/><line x1="447" y1="333" x2="503" y2="333"/><text class="st" x="475" y="316.5">«key_DesignChoice»</text><text class="nm" x="475" y="322">Fuel_Distribution</text><text class="t" x="449" y="330">ID = D09</text><text class="t" x="449" y="338.5">The integrated TMS shall<tspan x="449" dy="5">present a valve system for</tspan><tspan x="449" dy="5">fuel flow regulation to the</tspan><tspan x="449" dy="5">engines (recirculation</tspan><tspan x="449" dy="5">preferred over pressure</tspan><tspan x="449" dy="5">drop)</tspan></text></g>

<g id="Fuel_Pump_Flow" class="n B"><rect class="b" x="360" y="393" width="53" height="49"/><rect class="ft" x="360.5" y="438.5" width="52" height="3"/><rect class="h" x="360" y="393" width="53" height="12"/><line x1="360" y1="414" x2="413" y2="414"/><text class="st" x="386.5" y="397.5">«key_DesignChoice»</text><text class="nm" x="386.5" y="403">Fuel_Pump_Flow</text><text class="t" x="362" y="411">ID = D08</text><text class="t" x="362" y="419.5">The integrated TMS fuel<tspan x="362" dy="5">pump shall provide fuel</tspan><tspan x="362" dy="5">flow (fuel_m_flow) to the</tspan><tspan x="362" dy="5">engines.</tspan></text></g>

<g id="Electrical_Insulation" class="n B"><rect class="b" x="553" y="377" width="79" height="54"/><rect class="ft" x="553.5" y="427.5" width="78" height="3"/><rect class="h" x="553" y="377" width="79" height="12"/><line x1="553" y1="398" x2="632" y2="398"/><text class="st" x="592.5" y="381.5">«key_DesignChoice»</text><text class="nm" x="592.5" y="387">Electrical_Insulation</text><text class="t" x="555" y="395">ID = D10</text><text class="t" x="555" y="403.5">The integrated TMS shall provide<tspan x="555" dy="5">double cooling circuits to prevent direct</tspan><tspan x="555" dy="5">contact between fuel and electric</tspan><tspan x="555" dy="5">equipment, thus, coolant and fuel will</tspan><tspan x="555" dy="5">NOT emulsify.</tspan></text></g>

<g id="Wiring" class="n B"><rect class="b" x="641" y="376" width="53" height="55"/><rect class="ft" x="641.5" y="427.5" width="52" height="3"/><rect class="h" x="641" y="376" width="53" height="12"/><line x1="641" y1="397" x2="694" y2="397"/><text class="st" x="667.5" y="380.5">«key_DesignChoice»</text><text class="nm" x="667.5" y="386">Wiring</text><text class="t" x="643" y="394">ID = D12</text><text class="t" x="643" y="402.5">The integrated TMS shall<tspan x="643" dy="5">avoid presence of wirings</tspan><tspan x="643" dy="5">with high current</tspan><tspan x="643" dy="5">(current_MAX) in</tspan><tspan x="643" dy="5">proximity of fuel storage</tspan><tspan x="643" dy="5">and distribution devices.</tspan></text></g>

<g id="Tank_Cleaning" class="n B"><rect class="b" x="707" y="378" width="54" height="45"/><rect class="ft" x="707.5" y="419.5" width="53" height="3"/><rect class="h" x="707" y="378" width="54" height="12"/><line x1="707" y1="399" x2="761" y2="399"/><text class="st" x="734" y="382.5">«key_DesignChoice»</text><text class="nm" x="734" y="388">Tank_Cleaning</text><text class="t" x="709" y="396">ID = D13</text><text class="t" x="709" y="404.5">The integrated TMS tank<tspan x="709" dy="5">cleaning shall NOT be</tspan><tspan x="709" dy="5">done with the aid of steel</tspan><tspan x="709" dy="5">wool.</tspan></text></g>

<g id="Pump_Positioning" class="n B"><rect class="b" x="837" y="392" width="57" height="52"/><rect class="ft" x="837.5" y="440.5" width="56" height="3"/><rect class="h" x="837" y="392" width="57" height="12"/><line x1="837" y1="413" x2="894" y2="413"/><text class="st" x="865.5" y="396.5">«key_DesignChoice»</text><text class="nm" x="865.5" y="402">Pump_Positioning</text><text class="t" x="839" y="410">ID = D14</text><text class="t" x="839" y="418.5">The integrated TMS fuel<tspan x="839" dy="5">pump shall be placed in</tspan><tspan x="839" dy="5">such a way that the pump</tspan><tspan x="839" dy="5">inlet is always fully</tspan><tspan x="839" dy="5">submerged.</tspan></text></g>

<g id="Intermediate_Heat_Exchanger" class="n B"><rect class="b" x="550" y="439" width="84" height="48"/><rect class="ft" x="550.5" y="483.5" width="83" height="3"/><rect class="h" x="550" y="439" width="84" height="12"/><line x1="550" y1="460" x2="634" y2="460"/><text class="st" x="592" y="443.5">«key_DesignChoice»</text><text class="nm" x="592" y="449">Intermediate_Heat_Exchanger</text><text class="t" x="552" y="457">ID = D11</text><text class="t" x="552" y="465.5">The integrated TMS shall introduce an<tspan x="552" dy="5">intermediate heat exchanger to exchange</tspan><tspan x="552" dy="5">heat (Q_I_HE) between coolant and fuel.</tspan></text></g>

<g id="Heat_Absorption" class="n R"><rect class="b" x="163" y="290" width="54" height="39"/><rect class="ft" x="163.5" y="325.5" width="53" height="3"/><rect class="h" x="163" y="290" width="54" height="12"/><line x1="163" y1="311" x2="217" y2="311"/><text class="st" x="190" y="294.5">«key_Performance»</text><text class="nm" x="190" y="300">Heat_Absorption</text><text class="t" x="165" y="308">ID = P01</text><text class="t" x="165" y="316.5">Absorbed heat from the<tspan x="165" dy="5">equipment shall be</tspan><tspan x="165" dy="5">Q_waste.</tspan></text></g>

<g id="FC_HE_Mass_Perf" class="n R"><rect class="b" x="16" y="573" width="44" height="51"/><rect class="ft" x="16.5" y="620.5" width="43" height="3"/><rect class="h" x="16" y="573" width="44" height="12"/><line x1="16" y1="594" x2="60" y2="594"/><text class="st" x="38" y="577.5">«key_Performance»</text><text class="nm" x="38" y="583">FC_HE_Mass_Perf</text><text class="t" x="18" y="591">ID = P02</text><text class="t" x="18" y="599.5">Equipment heat<tspan x="18" dy="5">exchanger mass</tspan><tspan x="18" dy="5">shall be</tspan><tspan x="18" dy="5">FC_HE_mass.</tspan></text></g>

<g id="FC_HE_Volume_Perf" class="n R"><rect class="b" x="62" y="573" width="48" height="51"/><rect class="ft" x="62.5" y="620.5" width="47" height="3"/><rect class="h" x="62" y="573" width="48" height="12"/><line x1="62" y1="594" x2="110" y2="594"/><text class="st" x="86" y="577.5">«key_Performance»</text><text class="nm" x="86" y="583">FC_HE_Volume_Perf</text><text class="t" x="64" y="591">ID = P03</text><text class="t" x="64" y="599.5">Equipment heat<tspan x="64" dy="5">exchanger volume</tspan><tspan x="64" dy="5">shall be FC_HE_vol.</tspan></text></g>

<g id="Coolant_Flow_Perf" class="n R"><rect class="b" x="112" y="495" width="46" height="41"/><rect class="ft" x="112.5" y="532.5" width="45" height="3"/><rect class="h" x="112" y="495" width="46" height="12"/><line x1="112" y1="516" x2="158" y2="516"/><text class="st" x="135" y="499.5">«key_Performance»</text><text class="nm" x="135" y="505">Coolant_Flow_Perf</text><text class="t" x="114" y="513">ID = P04</text><text class="t" x="114" y="521.5">Coolant mass flow<tspan x="114" dy="5">shall be cool_m_flow.</tspan></text></g>

<g id="Heat_Accumulation" class="n R"><rect class="b" x="214" y="559" width="39" height="41"/><rect class="ft" x="214.5" y="596.5" width="38" height="3"/><rect class="h" x="214" y="559" width="39" height="12"/><line x1="214" y1="580" x2="253" y2="580"/><text class="st" x="233.5" y="563.5">«key_Performance»</text><text class="nm" x="233.5" y="569">Heat_Accumulation</text><text class="t" x="216" y="577">ID = P05</text><text class="t" x="216" y="585.5" style="font-size:3px">Heat sink accumulated<tspan x="216" dy="5">heat shall be C.</tspan></text></g>

<g id="Heat_Emission" class="n R"><rect class="b" x="269" y="619" width="69" height="31"/><rect class="ft" x="269.5" y="646.5" width="68" height="3"/><rect class="h" x="269" y="619" width="69" height="12"/><line x1="269" y1="640" x2="338" y2="640"/><text class="st" x="303.5" y="623.5">«key_Performance»</text><text class="nm" x="303.5" y="629">Heat_Emission</text><text class="t" x="271" y="637">ID = P06</text><text class="t" x="271" y="645.5">The ceded heat shall be Q_out.</text></g>

<g id="Fuel_Flow" class="n R"><rect class="b" x="360" y="457" width="54" height="40"/><rect class="ft" x="360.5" y="493.5" width="53" height="3"/><rect class="h" x="360" y="457" width="54" height="12"/><line x1="360" y1="478" x2="414" y2="478"/><text class="st" x="387" y="461.5">«key_Performance»</text><text class="nm" x="387" y="467">Fuel_Flow</text><text class="t" x="362" y="475">ID = P07</text><text class="t" x="362" y="483.5">Fuel flow to the engines<tspan x="362" dy="5">shall be fuel_m_flow.</tspan></text></g>

<g id="I_HE_Mass_Perf" class="n R"><rect class="b" x="519" y="619" width="68" height="41"/><rect class="ft" x="519.5" y="656.5" width="67" height="3"/><rect class="h" x="519" y="619" width="68" height="12"/><line x1="519" y1="640" x2="587" y2="640"/><text class="st" x="553" y="623.5">«key_Performance»</text><text class="nm" x="553" y="629">I_HE_Mass_Perf</text><text class="t" x="521" y="637">ID = P08</text><text class="t" x="521" y="645.5">Intermediate heat exchanger<tspan x="521" dy="5">mass shall be I_HE_mass.</tspan></text></g>

<g id="I_HE_Volume_Perf" class="n R"><rect class="b" x="598" y="619" width="69" height="41"/><rect class="ft" x="598.5" y="656.5" width="68" height="3"/><rect class="h" x="598" y="619" width="69" height="12"/><line x1="598" y1="640" x2="667" y2="640"/><text class="st" x="632.5" y="623.5">«key_Performance»</text><text class="nm" x="632.5" y="629">I_HE_Volume_Perf</text><text class="t" x="600" y="637">ID = P09</text><text class="t" x="600" y="645.5">Intermediate heat exchanger<tspan x="600" dy="5">volume shall be I_HE_vol.</tspan></text></g>

<g id="Fuel_Cell_Temperature" class="n Y"><rect class="b" x="266" y="216" width="50" height="44"/><rect class="ft" x="266.5" y="256.5" width="49" height="3"/><rect class="h" x="266" y="216" width="50" height="12"/><line x1="266" y1="237" x2="316" y2="237"/><text class="st" x="291" y="220.5">«key_Constraint»</text><text class="nm" x="291" y="226">Fuel_Cell_Temperature</text><text class="t" x="268" y="234">ID = C01</text><text class="t" x="268" y="242.5">The integrated TMS<tspan x="268" dy="5">shall maintain fuel cells</tspan><tspan x="268" dy="5">temperature below</tspan><tspan x="268" dy="5">limit (T_FC_max).</tspan></text></g>

<g id="Coolant_Pressure_Constr" class="n Y"><rect class="b" x="151" y="541" width="53" height="40"/><rect class="ft" x="151.5" y="577.5" width="52" height="3"/><rect class="h" x="151" y="541" width="53" height="12"/><line x1="151" y1="562" x2="204" y2="562"/><text class="st" x="177.5" y="545.5">«key_Constraint»</text><text class="nm" x="177.5" y="551">Coolant_Pressure_Constr</text><text class="t" x="153" y="559">ID = C03</text><text class="t" x="153" y="567.5">Coolant pressure shall be<tspan x="153" dy="5">cool_p.</tspan></text></g>

<g id="Fuel_Circuit_Pressure" class="n Y"><rect class="b" x="419" y="393" width="47" height="49"/><rect class="ft" x="419.5" y="438.5" width="46" height="3"/><rect class="h" x="419" y="393" width="47" height="12"/><line x1="419" y1="414" x2="466" y2="414"/><text class="st" x="442.5" y="397.5">«key_Constraint»</text><text class="nm" x="442.5" y="403">Fuel_Circuit_Pressure</text><text class="t" x="421" y="411">ID = C04</text><text class="t" x="421" y="421.5">Fuel pressure in the<tspan x="421" dy="5">circuit shall be</tspan><tspan x="421" dy="5">fuel_press.</tspan></text></g>

<g id="Tank_Capacity_Constr" class="n Y"><rect class="b" x="522" y="237" width="62" height="36"/><rect class="ft" x="522.5" y="269.5" width="61" height="3"/><rect class="h" x="522" y="237" width="62" height="12"/><line x1="522" y1="258" x2="584" y2="258"/><text class="st" x="553" y="241.5">«key_Constraint»</text><text class="nm" x="553" y="247">Tank_Capacity_Constr</text><text class="t" x="524" y="255">ID = C05</text><text class="t" x="524" y="263.5">Fuel storage capacity of tanks<tspan x="524" dy="5">shall be tank_capacity.</tspan></text></g>

<g id="Fuel_Mass_Constr" class="n Y"><rect class="b" x="603" y="236" width="58" height="36"/><rect class="ft" x="603.5" y="268.5" width="57" height="3"/><rect class="h" x="603" y="236" width="58" height="12"/><line x1="603" y1="257" x2="661" y2="257"/><text class="st" x="632" y="240.5">«key_Constraint»</text><text class="nm" x="632" y="246">Fuel_Mass_Constr</text><text class="t" x="605" y="254">ID = C06</text><text class="t" x="605" y="262.5">Total loaded fuel mass<tspan x="605" dy="5">shall be fuel_mass.</tspan></text></g>

<g id="Maximum_Current" class="n Y"><rect class="b" x="640" y="444" width="55" height="41"/><rect class="ft" x="640.5" y="481.5" width="54" height="3"/><rect class="h" x="640" y="444" width="55" height="12"/><line x1="640" y1="465" x2="695" y2="465"/><text class="st" x="667.5" y="448.5">«key_Constraint»</text><text class="nm" x="667.5" y="454">Maximum_Current</text><text class="t" x="642" y="462">ID = C05</text><text class="t" x="642" y="470.5">Maximum current allowed<tspan x="642" dy="5">in proximity of fuel shall</tspan><tspan x="642" dy="5">be current_MAX.</tspan></text></g>

<g id="Fuel_Velocity" class="n Y"><rect class="b" x="775" y="392" width="52" height="49"/><rect class="ft" x="775.5" y="437.5" width="51" height="3"/><rect class="h" x="775" y="392" width="52" height="12"/><line x1="775" y1="413" x2="827" y2="413"/><text class="st" x="801" y="396.5">«key_Constraint»</text><text class="nm" x="801" y="402">Fuel_Velocity</text><text class="t" x="777" y="410">ID = C07</text><text class="t" x="777" y="419.5">Fuel flow velocity<tspan x="777" dy="5">(fuel_speed) shall NOT</tspan><tspan x="777" dy="5">be higher than</tspan><tspan x="777" dy="5">fuel_speed_MAX.</tspan></text></g>

<g id="Fuel_Temperature_Limit" class="n Y"><rect class="b" x="907" y="332" width="47" height="41"/><rect class="ft" x="907.5" y="369.5" width="46" height="3"/><rect class="h" x="907" y="332" width="47" height="12"/><line x1="907" y1="353" x2="954" y2="353"/><text class="st" x="930.5" y="336.5">«key_Constraint»</text><text class="nm" x="930.5" y="342">Fuel_Temperature_Limit</text><text class="t" x="909" y="350">ID = C08</text><text class="t" x="909" y="358.5">Fuel temperature<tspan x="909" dy="5">shall NOT be higher</tspan><tspan x="909" dy="5">than T_fuel_MAX.</tspan></text></g>

<g id="Surface_Temperature_Limit" class="n Y"><rect class="b" x="973" y="329" width="54" height="49"/><rect class="ft" x="973.5" y="374.5" width="53" height="3"/><rect class="h" x="973" y="329" width="54" height="12"/><line x1="973" y1="350" x2="1027" y2="350"/><text class="st" x="1000" y="333.5">«key_Constraint»</text><text class="nm" x="1000" y="339">Surface_Temperature_Limit</text><text class="t" x="975" y="347">ID = C09</text><text class="t" x="975" y="355.5">Temperature of surfaces<tspan x="975" dy="5">in contact with fuel shall</tspan><tspan x="975" dy="5">NOT be higher than</tspan><tspan x="975" dy="5">T_surf_MAX.</tspan></text></g>

<g id="Safety_Factor_Constr" class="n Y"><rect class="b" x="1062" y="360" width="50" height="46"/><rect class="ft" x="1062.5" y="402.5" width="49" height="3"/><rect class="h" x="1062" y="360" width="50" height="12"/><line x1="1062" y1="381" x2="1112" y2="381"/><text class="st" x="1087" y="364.5">«key_Constraint»</text><text class="nm" x="1087" y="370">Safety_Factor_Constr</text><text class="t" x="1064" y="378">ID = C10</text><text class="t" x="1064" y="386.5">Safety factor for<tspan x="1064" dy="5">structural stresses on</tspan><tspan x="1064" dy="5">wing frame shall be SF.</tspan></text></g>

<g id="Lift_to_drag_ratio" class="n Y"><rect class="b" x="1141" y="236" width="55" height="48"/><rect class="ft" x="1141.5" y="280.5" width="54" height="3"/><rect class="h" x="1141" y="236" width="55" height="12"/><line x1="1141" y1="257" x2="1196" y2="257"/><text class="st" x="1168.5" y="240.5">«key_Constraint»</text><text class="nm" x="1168.5" y="246">Lift to drag ratio</text><text class="t" x="1143" y="254">ID = C11</text><text class="t" x="1143" y="262.5">The system shall not<tspan x="1143" dy="5">result in a lift-to drag ratio</tspan><tspan x="1143" dy="5">(L/D) lower than set</tspan><tspan x="1143" dy="5">threshold (L/D_lim)</tspan></text></g>

<g id="group_fuel_cell_cooling">
<ellipse class="ell" cx="192" cy="374" rx="165" ry="290" transform="rotate(8 192 374)" stroke="#ed7d31"/>
<line x1="83" y1="100" x2="112" y2="155" stroke="#ed7d31" stroke-width="3"/>
<rect x="21" y="30" width="121" height="70" rx="10" fill="#f8cbad" stroke="#c55a11" stroke-width="2"/>
<text class="cl" x="81.5" y="59">Fuel cell</text><text class="cl" x="81.5" y="85">cooling</text>
</g>
<g id="group_engine_feed">
<ellipse class="ell" cx="432" cy="297" rx="67" ry="226" transform="rotate(9 432 297)" stroke="#ffc000"/>
<line x1="428" y1="574" x2="398" y2="521" stroke="#ffc000" stroke-width="3"/>
<rect x="368" y="574" width="121" height="70" rx="10" fill="#ffe699" stroke="#bf9000" stroke-width="2"/>
<text class="cl" x="428.5" y="602">Engine</text><text class="cl" x="428.5" y="629">feed</text>
</g>
<g id="group_jet_fuel_tanks">
<ellipse class="ell" cx="593" cy="222" rx="80" ry="73" stroke="#70ad47"/>
<line x1="687" y1="78" x2="648" y2="170" stroke="#70ad47" stroke-width="3"/>
<rect x="626" y="7" width="121" height="71" rx="10" fill="#c5e0b4" stroke="#548235" stroke-width="2"/>
<text class="cl" x="686.5" y="36">Jet-fuel</text><text class="cl" x="686.5" y="63">tanks</text>
</g>
<g id="group_jet_fuel_regulation">
<ellipse class="ell" cx="765" cy="405" rx="340" ry="157" transform="rotate(-44 765 405)" stroke="#4472c4"/>
<line x1="893" y1="78" x2="850" y2="163" stroke="#4472c4" stroke-width="3"/>
<rect x="833" y="7" width="122" height="71" rx="10" fill="#b4c7e7" stroke="#2f5597" stroke-width="2"/>
<text class="cl" x="894" y="36">Jet-fuel</text><text class="cl" x="894" y="63">regulation</text>
</g>
<g id="group_aircraft">
<ellipse class="ell" cx="1118" cy="245" rx="87" ry="178" transform="rotate(6 1118 245)" stroke="#767676"/>
<line x1="1068" y1="486" x2="1093" y2="423" stroke="#767676" stroke-width="3"/>
<rect x="1008" y="486" width="121" height="71" rx="10" fill="#d9d9d9" stroke="#7f7f7f" stroke-width="2"/>
<text class="cl" x="1068.5" y="529">Aircraft</text>
</g>
</svg>
